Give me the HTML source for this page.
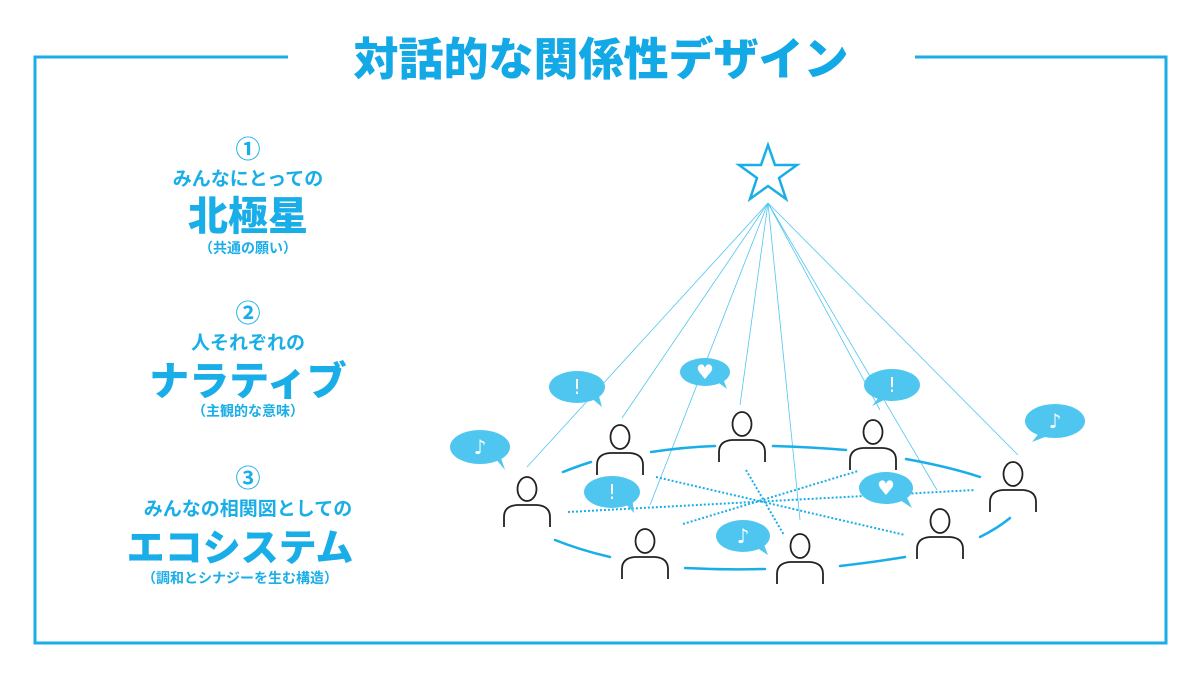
<!DOCTYPE html>
<html><head><meta charset="utf-8"><style>
body{margin:0;width:1200px;height:673px;background:#fff;overflow:hidden;font-family:"Liberation Sans","Noto Sans CJK JP",sans-serif}
svg{position:absolute;left:0;top:0}
</style></head><body>
<svg width="1200" height="673" viewBox="0 0 1200 673" font-family="Liberation Sans, Noto Sans CJK JP, sans-serif">
<path d="M288 57 H35 V643 H1166 V57 H915" fill="none" stroke="#1aaee8" stroke-width="3"/>
<text x="601" y="75" text-anchor="middle" font-size="45" font-weight="900" fill="#12a9e6">対話的な関係性デザイン</text>
<g fill="#1aaee8" text-anchor="middle" font-weight="700">
<text x="248" y="158" font-size="25" font-weight="700">①</text>
<text x="248" y="185" font-size="19">みんなにとっての</text>
<text x="248" y="230" font-size="40" font-weight="900">北極星</text>
<text x="248" y="253" font-size="14">（共通の願い）</text>
<text x="248" y="322" font-size="25" font-weight="700">②</text>
<text x="248" y="349" font-size="19">人それぞれの</text>
<text x="248" y="395" font-size="40" font-weight="900">ナラティブ</text>
<text x="248" y="416" font-size="14">（主観的な意味）</text>
<text x="248" y="487" font-size="25" font-weight="700">③</text>
<text x="248" y="515" font-size="19">みんなの相関図としての</text>
<text x="240" y="561" font-size="38" font-weight="900">エコシステム</text>
<text x="240" y="583" font-size="14">（調和とシナジーを生む構造）</text>
</g>
<polygon points="768,145 775,165 797,165 779,178 786,199 768,186 750,199 757,178 739,165 761,165" fill="none" stroke="#1aaee8" stroke-width="2.5"/>
<g stroke="#4fc6f0" stroke-width="0.8" fill="none">
<line x1="768" y1="203" x2="527" y2="467"/>
<line x1="768" y1="203" x2="622" y2="418"/>
<line x1="768" y1="203" x2="650" y2="505"/>
<line x1="768" y1="203" x2="740" y2="405"/>
<line x1="768" y1="203" x2="800" y2="520"/>
<line x1="768" y1="203" x2="880" y2="410"/>
<line x1="768" y1="203" x2="937" y2="490"/>
<line x1="768" y1="203" x2="1018" y2="455"/>
</g>
<g stroke="#1aaee8" stroke-width="2" stroke-dasharray="2 2" fill="none">
<line x1="568" y1="512" x2="975" y2="490"/>
<line x1="656" y1="477" x2="905" y2="535"/>
<line x1="683" y1="524" x2="858" y2="471"/>
<line x1="746" y1="470" x2="784" y2="535"/>
</g>
<g stroke="#1aaee8" stroke-width="2.5" fill="none" stroke-linecap="round">
<path d="M563 472 Q578 466 591 462"/>
<path d="M651 452 Q685 447 715 446"/>
<path d="M773 446 Q810 447 846 450"/>
<path d="M906 459 Q950 467 980 477"/>
<path d="M555 540 Q580 550 610 557"/>
<path d="M685 568 Q725 570 765 569"/>
<path d="M840 566 Q875 562 905 557"/>
<path d="M980 537 Q998 528 1010 518"/>
</g>
<defs>
<g id="p" fill="none" stroke="#222" stroke-width="1.8">
<ellipse cx="0" cy="0" rx="9.5" ry="12"/>
<path d="M-23 38 V28 Q-23 17 -10 16 H10 Q23 17 23 28 V38"/>
</g>
</defs>
<use href="#p" x="527" y="489"/>
<use href="#p" x="620" y="437"/>
<use href="#p" x="742" y="424"/>
<use href="#p" x="873" y="432"/>
<use href="#p" x="1013" y="474"/>
<use href="#p" x="940" y="521"/>
<use href="#p" x="800" y="546"/>
<use href="#p" x="645" y="541"/>
<g fill="#4fc6f0">
<ellipse cx="480" cy="447" rx="30" ry="17"/><path d="M495 458 L505 470 L500 455Z"/>
<ellipse cx="577" cy="387" rx="28" ry="16"/><path d="M590 397 L602 407 L598 393Z"/>
<ellipse cx="705" cy="372" rx="25" ry="14"/><path d="M715 380 L727 389 L722 376Z"/>
<ellipse cx="892" cy="385" rx="28" ry="16"/><path d="M880 396 L872 406 L888 398Z"/>
<ellipse cx="1055" cy="421" rx="30" ry="17"/><path d="M1040 432 L1032 442 L1050 435Z"/>
<ellipse cx="612" cy="492" rx="28" ry="16"/><path d="M624 502 L634 513 L632 497Z"/>
<ellipse cx="886" cy="488" rx="27" ry="16"/><path d="M897 498 L912 508 L905 494Z"/>
<ellipse cx="743" cy="536" rx="27" ry="16"/><path d="M754 546 L768 555 L763 542Z"/>
</g>
<g fill="#fff" text-anchor="middle" font-size="20" font-family="DejaVu Sans, sans-serif">
<text x="480" y="454">♪</text>
<text x="577" y="394">!</text>
<text x="705" y="379">♥</text>
<text x="892" y="392">!</text>
<text x="1055" y="428">♪</text>
<text x="612" y="499">!</text>
<text x="886" y="495">♥</text>
<text x="743" y="543">♪</text>
</g>
</svg>
</body></html>
